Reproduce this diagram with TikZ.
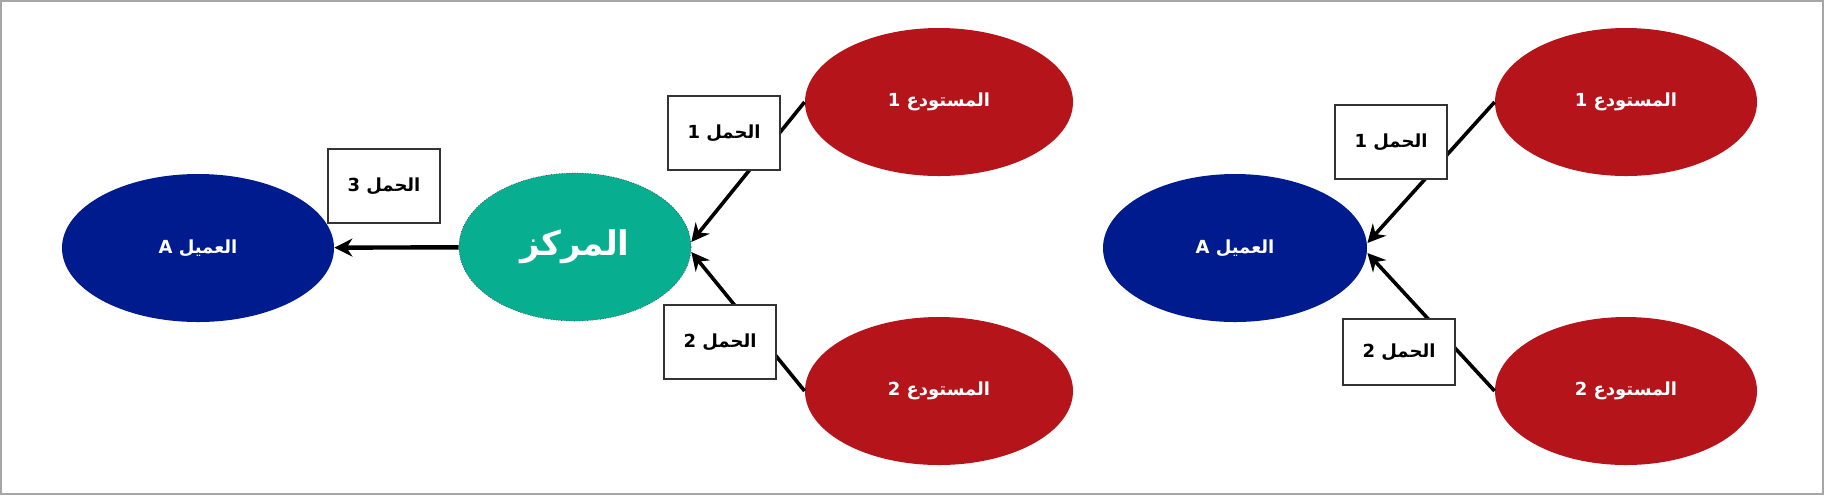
\documentclass[tikz,border=0pt]{standalone}
\usepackage{fontspec}
\newfontfamily\arabicfont[Script=Arabic]{DejaVu Sans}
\TeXXeTstate=1
\usetikzlibrary{shapes.geometric,arrows.meta}
\definecolor{clientblue}{RGB}{0,27,142}
\definecolor{depotred}{RGB}{182,20,27}
\definecolor{hubgreen}{RGB}{7,174,143}
\definecolor{hubrim}{RGB}{90,30,80}

\begin{document}
\begin{tikzpicture}
  [x=0.5pt,y=-0.5pt,
   clientN/.style={ellipse,fill=clientblue,text=white,inner sep=0pt,minimum height=74pt},
   depotN/.style={ellipse,fill=depotred,text=white,inner sep=0pt,minimum height=74pt,minimum width=134pt},
   hubN/.style={ellipse,fill=hubgreen,draw=hubrim,densely dotted,line width=0.3pt,text=white,inner sep=0pt,
     minimum width=116pt,minimum height=74pt,font=\arabicfont\bfseries\fontsize{17}{20}\selectfont},
   loadN/.style={rectangle,draw=black!80,fill=white,line width=0.8pt,inner sep=0pt,
     minimum width=56pt,minimum height=37pt},
   flow/.style={-{Stealth[length=9pt,width=9pt]},line width=1.8pt},
   every node/.style={font=\arabicfont\bfseries\fontsize{9}{11}\selectfont}]

  \useasboundingbox (0,0) rectangle (1824,495);
  \draw [black!35,line width=1pt] (1,1) rectangle (1823,494);

  % left: depots -> hub -> client
  \node at (198,248)  [clientN,minimum width=136pt] (clientL) {\beginR العميل A\endR};
  \node at (575,247)  [hubN]   (hub)    {\beginR المركز\endR};
  \node at (939,102)  [depotN] (depotLa) {\beginR المستودع 1\endR};
  \node at (939,391)  [depotN] (depotLb) {\beginR المستودع 2\endR};

  \draw [flow,line width=2.2pt] (hub) -- (clientL);
  \draw [flow] (depotLa.west) -- ([yshift=2.5pt]hub.east);
  \draw [flow] (depotLb.west) -- ([yshift=-2.5pt]hub.east);

  \node at (384,186) [loadN] (loadL3) {\beginR الحمل 3\endR};
  \node at (724,133) [loadN] (loadL1) {\beginR الحمل 1\endR};
  \node at (720,342) [loadN] (loadL2) {\beginR الحمل 2\endR};

  % right: depots -> client
  \node at (1235,248) [clientN,minimum width=132pt] (clientR) {\beginR العميل A\endR};
  \node at (1626,102) [depotN,minimum width=131pt] (depotRa) {\beginR المستودع 1\endR};
  \node at (1626,391) [depotN,minimum width=131pt] (depotRb) {\beginR المستودع 2\endR};

  \draw [flow] (depotRa.west) -- ([yshift=2.5pt]clientR.east);
  \draw [flow] (depotRb.west) -- ([yshift=-2.5pt]clientR.east);

  \node at (1391,142) [loadN] (loadR1) {\beginR الحمل 1\endR};
  \node at (1399,352) [loadN,minimum height=33pt] (loadR2) {\beginR الحمل 2\endR};
\end{tikzpicture}
\end{document}
